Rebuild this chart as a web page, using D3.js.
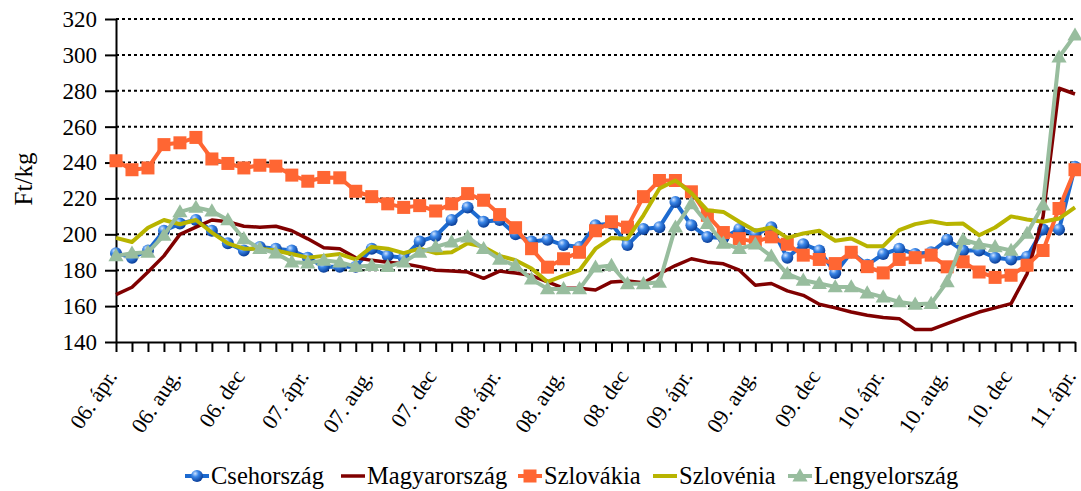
<!doctype html>
<html>
  <head>
    <script src="https://cdnjs.cloudflare.com/ajax/libs/d3/7.8.5/d3.min.js"></script>
    <style>
      body { margin: 0; background: #fff; }
      text { font-family: "Liberation Serif", "Times New Roman", serif; fill: #000; }
      .grid line { stroke: #000; stroke-width: 2; stroke-dasharray: 3 3; }
      .axis path, .axis line { stroke: #000; stroke-width: 2; }
      .axis text { font-size: 23px; }
    </style>
  </head>
  <body>
    <svg id="chart" width="1081" height="491"></svg>
    <script>
      // monthly prices, 2006 april .. 2011 april (61 points)
      var tickLabels = ["06. ápr.", "06. aug.", "06. dec", "07. ápr.", "07. aug.", "07. dec",
                        "08. ápr.", "08. aug.", "08. dec", "09. ápr.", "09. aug.", "09. dec",
                        "10. ápr.", "10. aug.", "10. dec", "11. ápr."];

      var cseh = [189.5, 187, 191, 202, 206, 208, 202, 195, 191, 193, 192, 191, 187, 182, 182, 182, 192, 188, 187, 196,
                  199, 208, 215, 207, 208, 200, 196, 197, 194, 193, 205, 206, 194, 203, 204, 218, 205, 198.5, 198, 203,
                  200, 204, 187, 194.5, 191, 178.5, 190, 183, 189, 192, 189, 190, 197, 191, 191, 187, 186, 187.5, 202.7, 202.7,
                  237.7];
      var magyar = [166.4, 170.5, 179, 188, 200, 204, 208, 207, 204.5, 204, 204.5, 202, 197.5, 192.5, 192, 187, 185.5, 184.5, 183.6, 182,
                    180, 179.6, 179, 175.5, 179.5, 178.4, 177, 173.5, 170, 170, 169, 173.5, 174, 173, 178, 182.6, 186.4, 184.5, 183.6, 180,
                    171.6, 172.6, 168.5, 166, 161, 159, 156.7, 154.9, 153.6, 153, 146.9, 146.9, 150.2, 153.6, 156.7, 159, 161.4, 178, 209.8, 281.4,
                    278.2];
      var szlovakia = [241, 236, 237, 250, 251, 254, 242, 239.5, 237, 238.5, 238, 233, 229.6, 231.7, 231.5, 224, 221, 217, 215, 216,
                       213, 217, 222.7, 219, 211, 203.7, 192, 181.7, 186.4, 190, 202, 207, 204, 221, 230, 230, 223.7, 210.6, 201, 197.6,
                       195.8, 198.6, 194.5, 188.4, 186, 183.7, 190, 182, 178.5, 186, 187, 188.4, 181.9, 184.7, 179, 176, 177.2, 182.8, 191, 214.4,
                       236];
      var szlovenia = [198, 195.7, 203.7, 208, 205.6, 208, 201, 195, 192, 192, 191, 189, 187, 188, 189, 186, 193, 192, 189.5, 192,
                       189.5, 190, 195, 193, 188, 185.6, 181, 173.5, 177, 180, 192, 198, 197.6, 210.6, 225.5, 230, 223, 213.4, 212.5, 207,
                       202, 203.8, 198, 200.5, 202, 196.4, 197.7, 193.4, 193.4, 202.3, 205.7, 207.3, 205.7, 206, 199.5, 203.8, 210, 208.3, 207, 208.8,
                       215];
      var lengyel = [188, 189.5, 190, 199.4, 212.5, 215, 213, 208, 197.5, 192, 189.5, 184.5, 184, 185.5, 184.5, 182, 182.6, 182, 184.5, 190,
                     193, 195.7, 198.5, 192, 186, 182.6, 175, 169.6, 169.6, 169.6, 181.7, 182.6, 172.4, 172.4, 173.3, 204, 217, 206, 195, 192,
                     194.5, 187.8, 178, 174.4, 172.6, 170.7, 170.7, 167.3, 165, 162.3, 161, 161.4, 173.5, 197, 194.5, 193, 191, 200.5, 216.3, 298.7,
                     311];

      var yTicks = [140, 160, 180, 200, 220, 240, 260, 280, 300, 320];

      var series = [
        {name: "Csehország", values: cseh, color: "#1c6ad0", width: 4, marker: "circle"},
        {name: "Magyarország", values: magyar, color: "#800000", width: 3.5, marker: null},
        {name: "Szlovákia", values: szlovakia, color: "#ff6633", width: 4, marker: "square"},
        {name: "Szlovénia", values: szlovenia, color: "#b8b400", width: 4, marker: null},
        {name: "Lengyelország", values: lengyel, color: "#98bd9e", width: 4, marker: "triangle"}
      ];

      var svg = d3.select("#chart");
      var plotLeft = 116, plotRight = 1075, plotTop = 19, plotBottom = 342;

      var x = d3.scaleLinear().domain([0, cseh.length - 1]).range([plotLeft, plotRight]);
      var y = d3.scaleLinear().domain([140, 320]).range([plotBottom, plotTop]);

      // gradient for the blue balls
      var defs = svg.append("defs");
      var grad = defs.append("radialGradient").attr("id", "ball")
          .attr("cx", "35%").attr("cy", "30%").attr("r", "70%");
      grad.append("stop").attr("offset", "0%").attr("stop-color", "#cfe3ff");
      grad.append("stop").attr("offset", "40%").attr("stop-color", "#3a86e8");
      grad.append("stop").attr("offset", "100%").attr("stop-color", "#0a3f9a");

      // gridlines
      svg.append("g").attr("class", "grid")
        .selectAll("line").data(yTicks.slice(1)).enter()
        .append("line")
          .attr("x1", plotLeft).attr("x2", plotRight)
          .attr("y1", d => y(d)).attr("y2", d => y(d));

      // y axis
      svg.append("g").attr("class", "axis")
          .attr("transform", "translate(" + plotLeft + ",0)")
          .call(d3.axisLeft(y).tickValues(yTicks).tickSize(11).tickSizeOuter(0).tickPadding(8));

      // x axis: a tick at every month, a label every 4 months
      var xAxis = svg.append("g").attr("class", "axis")
          .attr("transform", "translate(0," + plotBottom + ")")
          .call(d3.axisBottom(x).tickValues(d3.range(cseh.length)).tickSize(10).tickSizeOuter(0)
                .tickFormat(d => d % 4 === 0 ? tickLabels[d / 4] : ""));
      xAxis.selectAll("text")
          .attr("text-anchor", "end")
          .style("font-size", "22px")
          .attr("x", 0).attr("y", 0).attr("dy", "0.35em")
          .attr("transform", "translate(-5,30) rotate(-56)");

      // axis title
      svg.append("text")
        .attr("transform", "translate(32,179) rotate(-90)")
        .attr("text-anchor", "middle")
        .style("font-size", "25px")
        .text("Ft/kg");

      var line = d3.line().x((d, i) => x(i)).y(d => y(d));
      var tri = d3.symbol().type(d3.symbolTriangle).size(100);

      function drawMarker(g, type, color) {
        if (type === "circle") {
          g.append("circle").attr("r", 6).attr("fill", "url(#ball)");
        } else if (type === "square") {
          g.append("rect").attr("x", -6.5).attr("y", -6.5).attr("width", 13).attr("height", 13).attr("fill", color);
        } else if (type === "triangle") {
          g.append("path").attr("d", tri()).attr("fill", color).attr("transform", "translate(0,1)");
        }
      }

      series.forEach(function(s) {
        var g = svg.append("g");
        g.append("path")
          .datum(s.values)
          .attr("fill", "none")
          .attr("stroke", s.color)
          .attr("stroke-width", s.width)
          .attr("stroke-linejoin", "round")
          .attr("d", line);
        if (s.marker) {
          g.selectAll("g.pt").data(s.values).enter()
            .append("g").attr("class", "pt")
            .attr("transform", (d, i) => "translate(" + x(i) + "," + y(d) + ")")
            .each(function() { drawMarker(d3.select(this), s.marker, s.color); });
        }
      });

      // legend
      var legendX = [185, 341, 518, 653, 788];
      var legend = svg.append("g").attr("transform", "translate(0,476)");
      series.forEach(function(s, i) {
        var lg = legend.append("g").attr("transform", "translate(" + legendX[i] + ",0)");
        lg.append("line").attr("x1", 0).attr("x2", 24).attr("y1", 0).attr("y2", 0)
          .attr("stroke", s.color).attr("stroke-width", s.width);
        var m = lg.append("g").attr("transform", "translate(12,0)");
        drawMarker(m, s.marker, s.color);
        lg.append("text").attr("x", 26).attr("dy", "0.33em")
          .style("font-size", "24.5px").text(s.name);
      });
    </script>
  </body>
</html>
